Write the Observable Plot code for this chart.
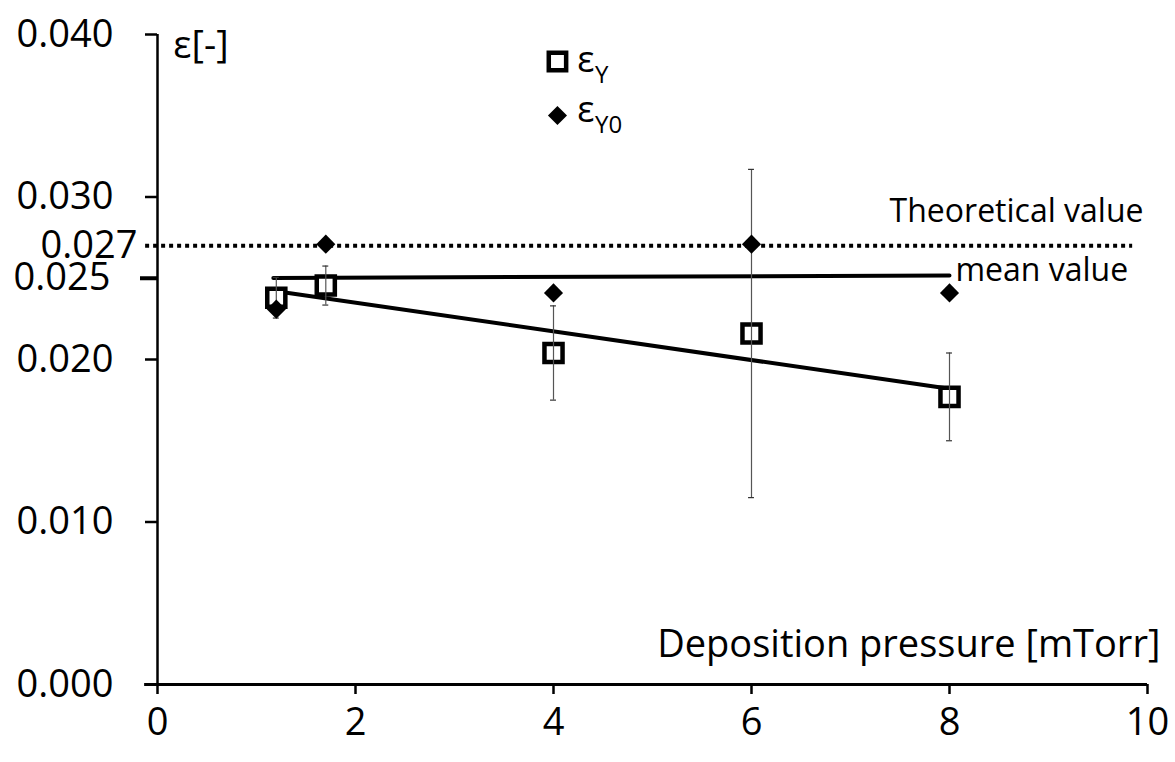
<!DOCTYPE html>
<html>
<head>
<meta charset="utf-8">
<script src="https://cdn.jsdelivr.net/npm/d3@7"></script>
<script src="https://cdn.jsdelivr.net/npm/@observablehq/plot@0.6"></script>
<style>
  html, body { margin: 0; padding: 0; background: #fff; }
  #chart svg { display: block; }
</style>
</head>
<body>
<div id="chart"></div>
<script>
// ---- data ----
const pressure = [1.2, 1.7, 4, 6, 8];            // mTorr
const epsY     = [0.0238, 0.02455, 0.0204, 0.0216, 0.0177];
const epsYErr  = [0.00125, 0.0012, 0.0029, 0.0101, 0.0027];
const epsY0    = [0.0231, 0.0271, 0.0241, 0.0271, 0.0241];
const trendX   = [1.2, 8];
const trendY   = [0.0242, 0.0182];
const meanX    = [1.17, 8];
const meanY    = [0.02502, 0.02517];
const theoreticalValue = 0.027;
const theoreticalX = [-0.12, 9.85];
const xTicks = [0, 2, 4, 6, 8, 10];
const yTicks = [0, 0.01, 0.02, 0.03, 0.04];
const yExtraTick = [0.025];
const yTheoTick = [0.027];

const pts = pressure.map((x, i) => ({x, y: epsY[i], e: epsYErr[i], y0: epsY0[i]}));
const trend = trendX.map((x, i) => ({x, y: trendY[i]}));
const mean = meanX.map((x, i) => ({x, y: meanY[i]}));
const fmt = d3.format(".3f");
const F = "'Open Sans', 'Noto Sans', sans-serif";

const chart = Plot.plot({
  width: 1175,
  height: 762,
  marginLeft: 157,
  marginRight: 28,
  marginTop: 34,
  marginBottom: 78,
  style: {fontFamily: F, color: "#000", background: "#fff", overflow: "visible"},
  x: {domain: [0, 10], label: null},
  y: {domain: [0, 0.04], label: null},
  marks: [
    // axes
    Plot.axisX(xTicks, {tickSize: 10, tickPadding: 14, fontSize: 38, strokeWidth: 2.5, tickFormat: d => String(d)}),
    Plot.axisY(yTicks, {tickSize: 12, tickPadding: 32, fontSize: 38, strokeWidth: 2.5, tickFormat: fmt}),
    Plot.axisY(yExtraTick, {tickSize: 17, tickPadding: 30, fontSize: 38, strokeWidth: 4, tickFormat: fmt}),
    Plot.axisY(yTheoTick, {tickSize: 0, tickPadding: 20, fontSize: 38, tickFormat: fmt}),
    Plot.ruleX([0], {y1: 0, y2: 0.04, stroke: "#000", strokeWidth: 2.5}),
    Plot.ruleY([0], {x1: -0.13, x2: 10, stroke: "#000", strokeWidth: 3}),
    // theoretical value (dotted)
    Plot.ruleY([theoreticalValue], {x1: theoreticalX[0], x2: theoreticalX[1], stroke: "#000", strokeWidth: 4, strokeDasharray: "4,4"}),
    // mean value line and trend line
    Plot.line(mean, {x: "x", y: "y", stroke: "#000", strokeWidth: 4}),
    Plot.line(trend, {x: "x", y: "y", stroke: "#000", strokeWidth: 4}),
    // squares (eps_Y)
    Plot.dot(pts, {x: "x", y: "y", symbol: "square", r: 10.2, stroke: "#000", strokeWidth: 4.5, fill: "#fff"}),
    // error bars
    Plot.ruleX(pts, {x: "x", y1: d => d.y - d.e, y2: d => d.y + d.e, stroke: "#555", strokeWidth: 1.2}),
    Plot.ruleY(pts, {y: d => d.y + d.e, x1: d => d.x - 0.03, x2: d => d.x + 0.03, stroke: "#333", strokeWidth: 1.2}),
    Plot.ruleY(pts, {y: d => d.y - d.e, x1: d => d.x - 0.03, x2: d => d.x + 0.03, stroke: "#333", strokeWidth: 1.2}),
    // diamonds (eps_Y0)
    Plot.dot(pts, {x: "x", y: "y0", symbol: "diamond2", r: 8.6, fill: "#000", stroke: "none"}),
    // annotations
    Plot.text(["Theoretical value"], {x: 9.96, y: 0.02908, textAnchor: "end", fontSize: 32, fill: "#000"}),
    Plot.text(["mean value"], {x: 8.06, y: 0.02545, textAnchor: "start", fontSize: 32, fill: "#000"}),
    Plot.text(["Deposition pressure [mTorr]"], {x: 10.13, y: 0.00244, textAnchor: "end", fontSize: 38, fill: "#000"}),
    Plot.text(["ε[-]"], {x: 0.16, y: 0.0393, textAnchor: "start", fontSize: 38, fill: "#000"}),
    // legend
    Plot.dot([0], {x: 4.04, y: 0.03834, symbol: "square", r: 9.8, stroke: "#000", strokeWidth: 4.5, fill: "#fff"}),
    Plot.dot([0], {x: 4.04, y: 0.03502, symbol: "diamond2", r: 8.6, fill: "#000", stroke: "none"}),
    Plot.text(["ε"], {x: 4.24, y: 0.03843, textAnchor: "start", fontSize: 36, fill: "#000"}),
    Plot.text(["Y"], {x: 4.42, y: 0.03751, textAnchor: "start", fontSize: 24, fill: "#000"}),
    Plot.text(["ε"], {x: 4.24, y: 0.03535, textAnchor: "start", fontSize: 36, fill: "#000"}),
    Plot.text(["Y0"], {x: 4.42, y: 0.0344, textAnchor: "start", fontSize: 24, fill: "#000"})
  ]
});
document.getElementById("chart").appendChild(chart);
</script>
</body>
</html>
